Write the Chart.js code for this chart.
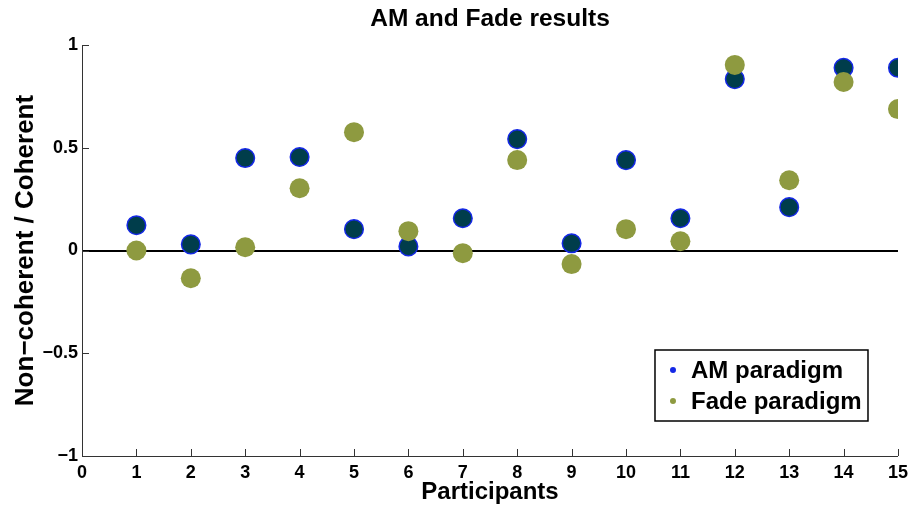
<!DOCTYPE html>
<html>
<head>
<meta charset="utf-8">
<script src="https://cdn.jsdelivr.net/npm/chart.js@4"></script>
<style>
  html, body { margin: 0; padding: 0; background: #fff; }
  #wrap { width: 914px; height: 510px; }
</style>
</head>
<body>
<div id="wrap"><canvas id="chart" width="914" height="510"></canvas></div>
<script>
// --- data ---
const participants = [1, 2, 3, 4, 5, 6, 7, 8, 9, 10, 11, 12, 13, 14, 15];
const amValues   = [0.123, 0.03, 0.45, 0.455, 0.104, 0.02, 0.157, 0.542, 0.035, 0.44, 0.157, 0.834, 0.211, 0.889, 0.889];
const fadeValues = [0.0, -0.135, 0.016, 0.303, 0.576, 0.094, -0.013, 0.44, -0.066, 0.104, 0.045, 0.903, 0.342, 0.82, 0.688];
const yTicks = [-1, -0.5, 0, 0.5, 1];

const FONT = '"Liberation Sans", Arial, Helvetica, sans-serif';
const AXIS_COLOR = '#333';

// MATLAB-style inward tick marks
const inwardTicks = {
    id: 'inwardTicks',
    afterDraw(chart) {
        const { ctx, chartArea, scales } = chart;
        ctx.save();
        ctx.strokeStyle = AXIS_COLOR;
        ctx.lineWidth = 1;
        ctx.beginPath();
        scales.x.ticks.forEach(t => {
            const px = Math.round(scales.x.getPixelForValue(t.value)) + 0.5;
            ctx.moveTo(px, chartArea.bottom);
            ctx.lineTo(px, chartArea.bottom - 7);
        });
        scales.y.ticks.forEach(t => {
            const py = Math.round(scales.y.getPixelForValue(t.value)) + 0.5;
            ctx.moveTo(chartArea.left, py);
            ctx.lineTo(chartArea.left + 7, py);
        });
        ctx.stroke();
        ctx.restore();
    }
};

// legend box inside the plot, bottom right
const boxLegend = {
    id: 'boxLegend',
    afterDraw(chart) {
        const { ctx, chartArea } = chart;
        const right = chartArea.right - 30;
        const bottom = chartArea.bottom - 35;
        const w = 213, h = 71;
        const left = right - w, top = bottom - h;
        ctx.save();
        ctx.fillStyle = '#fff';
        ctx.fillRect(left, top, w, h);
        ctx.strokeStyle = '#000';
        ctx.lineWidth = 1.5;
        ctx.strokeRect(left, top, w, h);

        const items = [chart.data.datasets[1], chart.data.datasets[0]]; // AM first
        ctx.font = 'bold 24px ' + FONT;
        ctx.textBaseline = 'middle';
        items.forEach((ds, i) => {
            const cy = top + 20 + i * 31;
            ctx.beginPath();
            ctx.arc(left + 18, cy, 3, 0, Math.PI * 2);
            ctx.fillStyle = ds.legendColor;
            ctx.fill();
            ctx.fillStyle = '#000';
            ctx.fillText(ds.label, left + 36, cy + 1);
        });
        ctx.restore();
    }
};

const toPoints = vals => participants.map((p, i) => ({ x: p, y: vals[i] }));

new Chart(document.getElementById('chart'), {
    type: 'scatter',
    data: {
        datasets: [
            {
                label: 'Fade paradigm',
                data: toPoints(fadeValues),
                backgroundColor: '#8e9a40',
                borderWidth: 0,
                pointRadius: 10,
                legendColor: '#8e9a40',
                order: 0
            },
            {
                label: 'AM paradigm',
                data: toPoints(amValues),
                backgroundColor: '#003d4b',
                borderColor: '#1428e6',
                borderWidth: 1.5,
                pointRadius: 9.3,
                legendColor: '#1428e6',
                order: 1
            }
        ]
    },
    options: {
        responsive: false,
        animation: false,
        events: [],
        layout: { padding: { left: 0, right: 12, top: 0, bottom: 0 } },
        plugins: {
            legend: { display: false },
            tooltip: { enabled: false },
            title: {
                display: true,
                fullSize: false,
                text: 'AM and Fade results',
                color: '#000',
                font: { family: FONT, size: 24.5, weight: 'bold' },
                padding: { top: 5, bottom: 10.6 }
            }
        },
        scales: {
            x: {
                type: 'linear',
                min: 0,
                max: 15,
                ticks: {
                    stepSize: 1,
                    color: '#000',
                    padding: 6,
                    maxRotation: 0,
                    autoSkip: false,
                    font: { family: FONT, size: 18, weight: 'bold' }
                },
                grid: { display: false, drawTicks: false },
                border: { display: true, color: AXIS_COLOR, width: 1 },
                title: {
                    display: true,
                    text: 'Participants',
                    color: '#000',
                    font: { family: FONT, size: 24, weight: 'bold' },
                    padding: { top: 0, bottom: 3 }
                },
                afterFit: scale => { scale.height = 54; }
            },
            y: {
                type: 'linear',
                min: -1,
                max: 1,
                z: 1,
                afterBuildTicks: scale => { scale.ticks = yTicks.map(v => ({ value: v })); },
                ticks: {
                    color: '#000',
                    padding: 4,
                    font: { family: FONT, size: 18, weight: 'bold' },
                    callback: v => String(v).replace('-', '\u2212')
                },
                grid: {
                    drawTicks: false,
                    color: c => (c.tick && c.tick.value === 0) ? '#000' : 'rgba(0,0,0,0)',
                    lineWidth: 2
                },
                border: { display: true, color: AXIS_COLOR, width: 1 },
                title: {
                    display: true,
                    text: 'Non\u2212coherent / Coherent',
                    color: '#000',
                    font: { family: FONT, size: 26, weight: 'bold' },
                    padding: { top: 10, bottom: 10 }
                },
                afterFit: scale => { scale.width = 82; }
            }
        }
    },
    plugins: [inwardTicks, boxLegend]
});
</script>
</body>
</html>
